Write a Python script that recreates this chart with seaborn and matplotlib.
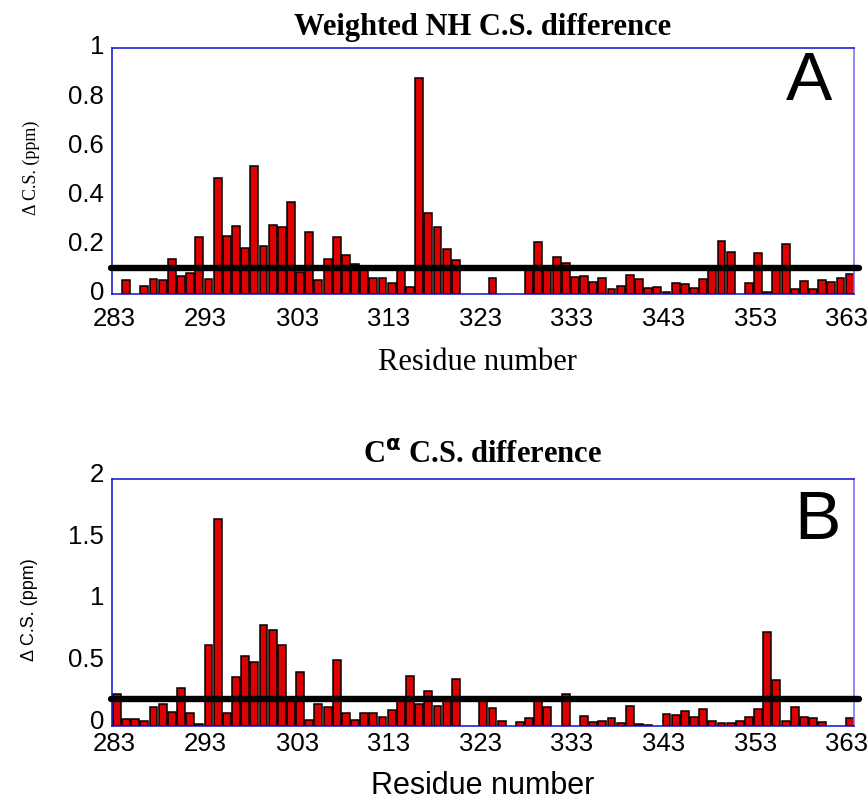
import numpy as np
import pandas as pd
import matplotlib
matplotlib.use("Agg")
import matplotlib.pyplot as plt
import matplotlib.transforms as mtransforms
import seaborn as sns

# ---------------- data ----------------
nh_residues = [284, 286, 287, 288, 289, 290, 291, 292, 293, 294, 295, 296, 297, 298, 299,
               300, 301, 302, 303, 304, 305, 306, 307, 308, 309, 310, 311, 312, 313, 314,
               315, 316, 317, 318, 319, 320, 324, 328, 329, 330, 331, 332, 333, 334, 335,
               336, 337, 338, 339, 340, 341, 342, 343, 344, 345, 346, 347, 348, 349, 350,
               352, 353, 354, 355, 356, 357, 358, 359, 360, 361, 362, 363]
nh_values = [0.058, 0.034, 0.062, 0.058, 0.144, 0.073, 0.087, 0.233, 0.062, 0.473, 0.236, 0.276, 0.187, 0.523, 0.196,
             0.280, 0.275, 0.375, 0.091, 0.252, 0.058, 0.145, 0.234, 0.159, 0.122, 0.110, 0.065, 0.066, 0.045, 0.099,
             0.030, 0.878, 0.332, 0.275, 0.183, 0.140, 0.065, 0.100, 0.214, 0.105, 0.150, 0.126, 0.070, 0.076, 0.049,
             0.065, 0.023, 0.034, 0.077, 0.062, 0.027, 0.030, 0.008, 0.046, 0.041, 0.027, 0.061, 0.100, 0.218, 0.172,
             0.045, 0.168, 0.009, 0.100, 0.205, 0.023, 0.053, 0.020, 0.058, 0.051, 0.065, 0.081]
nh_threshold = 0.107

ca_residues = [283, 284, 285, 286, 287, 288, 289, 290, 291, 292, 293, 294, 295, 296, 297,
               298, 299, 300, 301, 302, 303, 304, 305, 306, 307, 308, 309, 310, 311, 312,
               313, 314, 315, 316, 317, 318, 319, 320, 323, 324, 325, 327, 328, 329, 330,
               332, 334, 335, 336, 337, 338, 339, 340, 341, 343, 344, 345, 346, 347, 348,
               349, 350, 351, 352, 353, 354, 355, 356, 357, 358, 359, 360, 363]
ca_values = [0.254, 0.051, 0.054, 0.035, 0.151, 0.173, 0.111, 0.303, 0.100, 0.011, 0.654, 1.673, 0.105, 0.395, 0.562,
             0.516, 0.819, 0.776, 0.654, 0.220, 0.435, 0.046, 0.173, 0.149, 0.532, 0.103, 0.043, 0.100, 0.103, 0.068,
             0.127, 0.210, 0.400, 0.173, 0.284, 0.162, 0.220, 0.376, 0.210, 0.141, 0.038, 0.027, 0.062, 0.210, 0.149,
             0.254, 0.076, 0.027, 0.035, 0.065, 0.019, 0.157, 0.011, 0.005, 0.095, 0.084, 0.119, 0.068, 0.135, 0.038,
             0.019, 0.019, 0.035, 0.068, 0.138, 0.759, 0.370, 0.035, 0.154, 0.068, 0.059, 0.027, 0.059]
ca_threshold = 0.218

x_ticks = [283, 293, 303, 313, 323, 333, 343, 353, 363]
nh_yticks = [0, 0.2, 0.4, 0.6, 0.8, 1]
nh_yticklabels = ["0", "0.2", "0.4", "0.6", "0.8", "1"]
ca_yticks = [0, 0.5, 1, 1.5, 2]
ca_yticklabels = ["0", "0.5", "1", "1.5", "2"]

# ---------------- style ----------------
sns.set_style("white")
plt.rcParams['font.family'] = ['Liberation Sans', 'DejaVu Sans']
plt.rcParams['text.color'] = 'black'
plt.rcParams['xtick.color'] = 'black'
plt.rcParams['ytick.color'] = 'black'
plt.rcParams['axes.labelcolor'] = 'black'
SERIF = ['Liberation Serif', 'DejaVu Serif']
SANS = ['Liberation Sans', 'DejaVu Sans']

W, H = 868, 800
fig = plt.figure(figsize=(W / 100, H / 100), dpi=100)

def px_axes(left, top, right, bottom):
    return fig.add_axes([left / W, 1 - bottom / H, (right - left) / W, (bottom - top) / H])

axA = px_axes(112.3, 48.3, 854.3, 294.3)
axB = px_axes(112.3, 479.0, 854.3, 725.7)

BAR = "#DD0000"

def draw(ax, res, vals, thr, yticks, yticklabels, ymax, xpad):
    df = pd.DataFrame({"residue": res, "value": vals})
    sns.barplot(data=df, x="residue", y="value", native_scale=True, width=0.86,
                color=BAR, saturation=1, edgecolor="black", linewidth=1.1, ax=ax, zorder=2)
    ax.set_xlim(282.5, 363.5)
    ax.set_ylim(0, ymax)
    ax.set_xticks(x_ticks)
    ax.set_xticklabels([str(t) for t in x_ticks])
    ax.set_yticks(yticks)
    ax.set_yticklabels(yticklabels)
    ax.tick_params(axis='both', length=0, labelsize=18.5, colors='black')
    ax.tick_params(axis='y', pad=6)
    ax.tick_params(axis='x', pad=xpad)
    for lab in ax.get_yticklabels():
        lab.set_verticalalignment('baseline')
    ax.set_xlabel("")
    ax.set_ylabel("")
    for side in ['top', 'bottom', 'left']:
        ax.spines[side].set_color("#1010CC")
        ax.spines[side].set_linewidth(1.1)
    ax.spines['right'].set_color("#7070EE")
    ax.spines['right'].set_linewidth(1.1)
    ax.axhline(thr, xmin=-0.002, xmax=1.006, color="black", lw=4.6, clip_on=False, zorder=5)
    ax.grid(False)

draw(axA, nh_residues, nh_values, nh_threshold, nh_yticks, nh_yticklabels, 1.0, 9)
draw(axB, ca_residues, ca_values, ca_threshold, ca_yticks, ca_yticklabels, 2.0, 4.5)

for ax, dy in ((axA, -6), (axB, -3)):
    off = mtransforms.ScaledTranslation(0, dy / 100, fig.dpi_scale_trans)
    for lab in ax.get_yticklabels():
        lab.set_transform(lab.get_transform() + off)
    offx = mtransforms.ScaledTranslation(-3 / 100, 0, fig.dpi_scale_trans)
    for lab in ax.get_xticklabels():
        lab.set_transform(lab.get_transform() + offx)

# titles and labels
fig.text(483 / W, 1 - 27 / H, "Weighted NH C.S. difference", ha='center', va='center',
         fontsize=22, fontweight='bold', family=SERIF)
fig.text(482 / W, 1 - 456 / H, r"C$^{\mathbf{\alpha}}$ C.S. difference", ha='center', va='center',
         fontsize=22, fontweight='bold', family=SERIF)
fig.text(477 / W, 1 - 362 / H, "Residue number", ha='center', va='center',
         fontsize=22, family=SERIF)
fig.text(483 / W, 1 - 786 / H, "Residue number", ha='center', va='center',
         fontsize=22, family=SANS)
fig.text(31 / W, 1 - 168 / H, "Δ C.S. (ppm)", ha='center', va='center', rotation=90,
         fontsize=13, family=SERIF)
fig.text(29 / W, 1 - 610 / H, "Δ C.S. (ppm)", ha='center', va='center', rotation=90,
         fontsize=13, family=SANS)

# panel letters
fig.text(809 / W, 1 - 82 / H, "A", ha='center', va='center', fontsize=50, family=SANS)
fig.text(817 / W, 1 - 521 / H, "B", ha='center', va='center', fontsize=50, family=SANS)

fig.savefig("out.png", dpi=100)
